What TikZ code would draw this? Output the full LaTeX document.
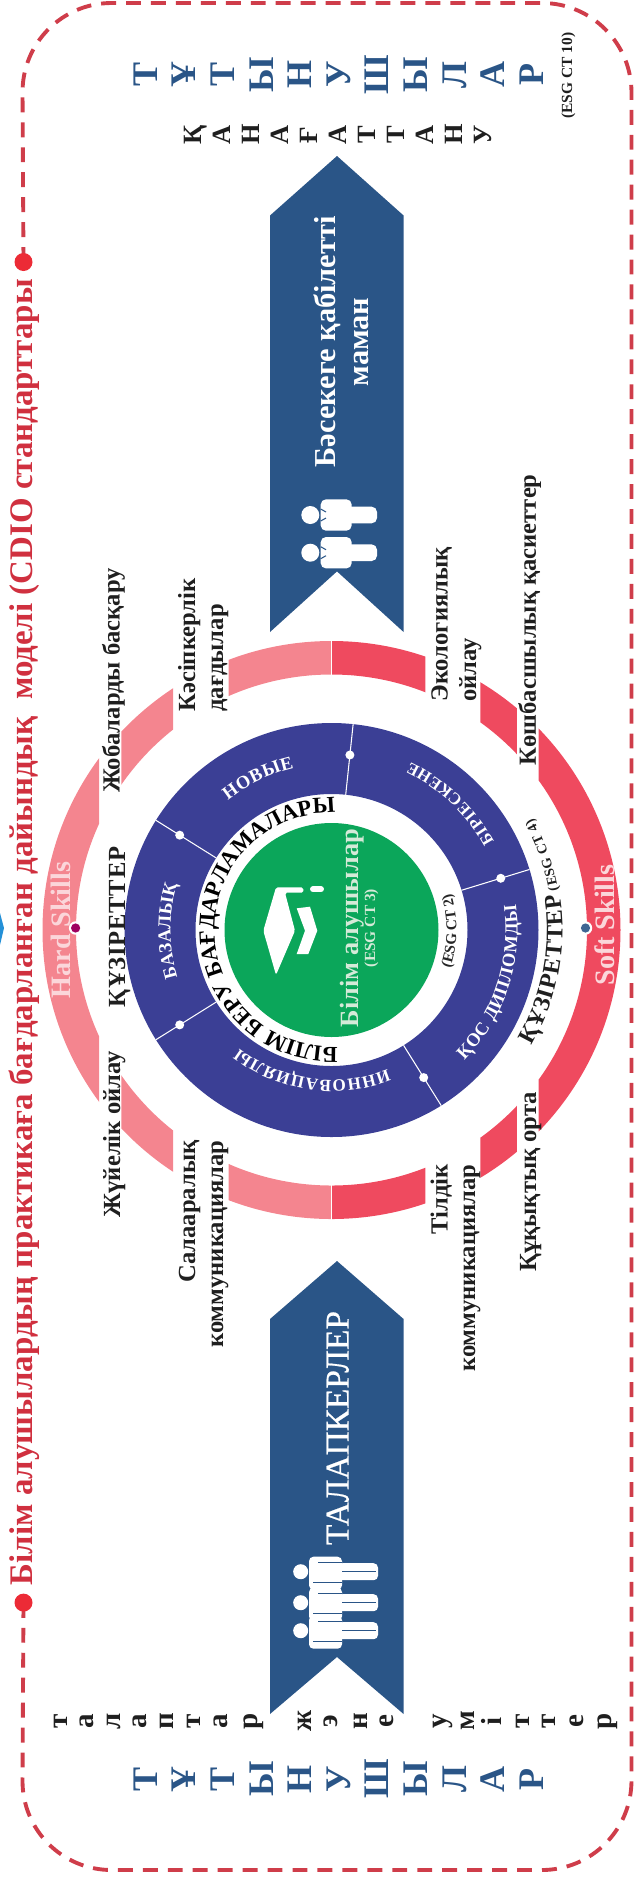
\documentclass[tikz,border=0pt]{standalone}
\usepackage{fontspec}
\setmainfont{Liberation Serif}
\usetikzlibrary{calc,decorations.text}
\definecolor{framered}{HTML}{CF3D4A}
\definecolor{titlered}{HTML}{D0303F}
\definecolor{dotred}{HTML}{EC2B36}
\definecolor{arrowblue}{HTML}{2A5587}
\definecolor{ringblue}{HTML}{3B3F95}
\definecolor{ringgreen}{HTML}{0BA65A}
\definecolor{softpink}{HTML}{F4858F}
\definecolor{softred}{HTML}{EF4A5F}
\definecolor{lightpink}{HTML}{FBD6DA}
\definecolor{lightgreen}{HTML}{D5EAD8}

\tikzset{
  lab/.style={rotate=90,inner sep=0,anchor=base west,text=black!88,font=\bfseries\fontsize{14}{16}\selectfont},
  labend/.style={lab,anchor=base east},
  bigletter/.style={rotate=90,inner sep=0,anchor=base,text=arrowblue,font=\bfseries\fontsize{20.5}{22}\selectfont},
  midletter/.style={rotate=90,inner sep=0,anchor=base,text=black!88,font=\bfseries\fontsize{15}{17}\selectfont},
  smallletter/.style={rotate=90,inner sep=0,anchor=base,text=black!88,font=\bfseries\fontsize{16.5}{18}\selectfont},
  note/.style={rotate=90,inner sep=0,anchor=base,text=black!88,font=\bfseries\fontsize{8.8}{10}\selectfont},
  arrowtext/.style={rotate=90,inner sep=0,anchor=base,text=white,font=\bfseries\fontsize{17.3}{20}\selectfont},
  skills/.style={rotate=90,inner sep=0,anchor=base,text=lightpink,font=\bfseries\fontsize{16}{18}\selectfont}
}
\newcommand{\ringpart}[3]{%
  \begin{scope}
    \clip (#1,-1300) rectangle (#2,-500);
    \fill[#3,even odd rule] (ringc) circle[radius=289] (ringc) circle[radius=255.5];
  \end{scope}}
\newcommand{\arctext}[5]{%
  \path[decorate,decoration={text along path,text={|#4|#5},text align={fit to path}}]
    (ringc) ++(#1:#3) arc[start angle=#1,end angle=#2,radius=#3];}

\begin{document}
\begin{tikzpicture}[x=0.02cm,y=0.02cm]
\useasboundingbox (0,0) rectangle (634,-1881);

\coordinate (ringc) at (331.5,-930);

% frame
\coordinate (dottop) at (23.5,-262);
\coordinate (dotbottom) at (23.5,-1602.6);
\draw[framered,line width=2.2pt,dash pattern=on 8.5pt off 5.7pt,rounded corners=51pt]
  (dottop) -- (22,-3) -- (631.5,-3) -- (631.5,-1870) -- (22,-1870) -- (dotbottom);
\fill[dotred] (dottop) circle[radius=9];
\fill[dotred] (dotbottom) circle[radius=9];
\node[rotate=90,inner sep=0,anchor=base,text=titlered,font=\bfseries\fontsize{18.75}{22}\selectfont] (title) at (32,-932)
  {Білім алушылардың практикаға бағдарланған дайындық\ \ моделі (CDIO стандарттары};
\fill[cyan!70!blue!90] (0,-913) -- (4,-928) -- (0,-945) -- cycle;

% arrows
\fill[arrowblue] (337,-156) -- (403.6,-215.5) -- (403.6,-632) -- (337,-571.4) -- (270,-632) -- (270,-215.5) -- cycle;
\fill[arrowblue] (337,-1261) -- (403.6,-1319) -- (403.6,-1714) -- (337,-1657) -- (270,-1714) -- (270,-1319) -- cycle;

% people
\foreach \y in {515,552.7} {
  \fill[white] (310.3,-\y) circle[radius=9];
  \fill[white,rounded corners=3pt] (320.7,-\y+15.7) rectangle (351.7,-\y-15.7);
  \fill[white,rounded corners=3pt] (345,-\y+8.3) rectangle (377,-\y-8.3);
  \draw[arrowblue,line width=0.6pt] (320.7,-\y+6) -- (326,-\y+3) (320.7,-\y-6) -- (326,-\y-3);
}
\foreach \y in {1571.7,1602.7,1630.7} {
  \fill[white] (300.7,-\y) circle[radius=7.5];
  \fill[white,rounded corners=2.5pt] (309,-\y-18) rectangle (342,-\y+15);
  \fill[white,rounded corners=2.5pt] (338,-\y-8.5) rectangle (378,-\y+8.5);
  \draw[arrowblue,line width=0.5pt] (342,-\y) -- (376,-\y);
  \draw[arrowblue,line width=0.5pt] (318,-\y+9) -- (342,-\y+9);
  \draw[arrowblue,line width=0.5pt] (313,-\y-11) -- (342,-\y-11);
}

% ring
\ringpart{0}{99}{softpink}
\ringpart{121.3}{173}{softpink}
\ringpart{228.5}{331.6}{softpink}
\ringpart{331.6}{425.4}{softred}
\ringpart{480.4}{516.8}{softred}
\ringpart{538.6}{634}{softred}
\draw[white,line width=0.5pt] (331.6,-630) -- (331.6,-685) (331.6,-1175) -- (331.6,-1230);
\node[skills] (hard) at (71,-930) {Hard Skills};
\node[skills] (soft) at (614,-925) {Soft Skills};
\fill[white] (75.6,-928) circle[radius=6.7];
\fill[white] (585.5,-928) circle[radius=6.7];
\fill[violet!75!red] (75.6,-928) circle[radius=4.6];
\fill[arrowblue!90!white] (585.5,-928) circle[radius=4.6];

% programmes
\fill[ringblue,even odd rule] (ringc) circle[radius=207] (ringc) circle[radius=136];
\fill[ringgreen] (ringc) circle[radius=107];
\foreach \a/\d in {84/176,148/179,212/179,-58/174,17/177} {
  \draw[white,line width=0.6pt] (ringc) ++(\a:136) -- ++(\a:71);
  \fill[white] (ringc) ++(\a:\d) circle[radius=4.5];
}
\arctext{128.6}{103}{166}{\color{white}\bfseries\fontsize{10.5}{12}\selectfont}{НОВЫЕ}
\arctext{197}{165}{161}{\color{white}\bfseries\fontsize{10.5}{12}\selectfont}{БАЗАЛЫҚ}
\arctext{-68}{-128}{150}{\color{white}\bfseries\fontsize{9.8}{12}\selectfont}{ИННОВАЦИЯЛЫ}
\arctext{-44.4}{8}{186}{\color{white}\bfseries\fontsize{10.5}{12}\selectfont}{ҚОС ДИПЛОМДЫ}
\arctext{28.5}{64.8}{185}{\color{white}\bfseries\fontsize{9.5}{11}\selectfont}{БІРІЕСКЕНЕ}
\arctext{-87}{-270}{117}{\color{black}\bfseries\fontsize{13}{15}\selectfont}{БІЛІМ БЕРУ БАҒДАРЛАМАЛАРЫ}
\arctext{-18}{17}{125}{\color{black!85}\bfseries\fontsize{8.6}{10}\selectfont}{(ESG CT 2)}
\arctext{-30}{9}{231}{\color{black!88}\bfseries\fontsize{13.6}{15}\selectfont}{ҚҰЗІРЕТТЕР}
\arctext{10}{29}{230}{\color{black!88}\bfseries\fontsize{8}{10}\selectfont}{(ESG CT 4)}
\node[rotate=90,inner sep=0,anchor=base,text=black!88,font=\bfseries\fontsize{14}{16}\selectfont\addfontfeature{LetterSpace=3}] (kuzleft) at (125,-927) {ҚҰЗІРЕТТЕР};

% logo
\fill[white,rounded corners=1pt] (263.3,-930.7) -- (276,-887.3) -- (303.3,-887.3) -- (303.3,-892.7) -- (285,-892.7) -- (295,-930.7) -- (276,-975) -- cycle;
\fill[white] (296.7,-908.3) -- (310,-906.7) -- (317.3,-930.7) -- (308.3,-954) -- (296.7,-954) -- (305,-930.7) -- cycle;
\draw[white,line width=3.4pt,line cap=round] (313,-889.3) -- (321,-889.3);
\node[rotate=90,inner sep=0,anchor=base,text=lightgreen,font=\bfseries\fontsize{15}{17}\selectfont] (students) at (358,-928) {Білім алушылар};
\node[rotate=90,inner sep=0,anchor=base,text=lightgreen,font=\bfseries\fontsize{8.8}{10}\selectfont] (esgthree) at (375,-928) {(ESG CT 3)};

% labels
\node[lab] (projects) at (119.7,-793) {Жобаларды басқару};
\node[lab] (systems) at (120,-1218) {Жүйелік ойлау};
\node[lab] (prof) at (195,-712) {Кәсіпкерлік};
\node[lab] (prof2) at (223,-712) {дағдылар};
\node[lab] (eco) at (447.6,-702) {Экологиялық};
\node[lab] (eco2) at (476,-702) {ойлау};
\node[lab] (lead) at (535.8,-765.6) {Көшбасшылық қасиеттер};
\node[labend] (inter) at (195,-1140) {Салааралық};
\node[labend] (inter2) at (223,-1140) {коммуникациялар};
\node[labend] (lang) at (447.6,-1164) {Тілдік};
\node[labend] (lang2) at (475,-1164) {коммуникациялар};
\node[lab] (legal) at (536,-1272) {Құқықтық орта};

% arrow texts
\node[arrowtext] (rival) at (335,-341.7) {Бәсекеге қабілетті};
\node[arrowtext] (rival2) at (368,-342) {маман};
\node[arrowtext,font=\fontsize{19}{22}\selectfont\addfontfeature{FakeBold=0.6}] (applicants) at (348.6,-1428) {ТАЛАПКЕРЛЕР};

% spelled words
\foreach \ch [count=\n] in {Т,Ұ,Т,Ы,Н,У,Ш,Ы,Л,А,Р} {
  \node[bigletter] (toplet\n) at ({157.3+38.6*(\n-1)},-74.7) {\ch};
  \node[bigletter] (botlet\n) at ({157.3+38.6*(\n-1)},-1779) {\ch};
}
\foreach \ch [count=\n] in {Қ,А,Н,А,Ғ,А,Т,Т,А,Н,У} {
  \node[midletter] (satis\n) at ({201.5+29*(\n-1)},-134.7) {\ch};
}
\foreach \ch/\x [count=\n] in {т/60,а/86.6,л/113,а/139,п/166,т/193,а/220,р/250,ж/304,э/330,н/360,е/386.6,у/439.6,м/467,і/494.5,т/522,т/548,е/576,р/604} {
  \node[smallletter] (low\n) at (\x+7,-1721) {\ch};
}
\node[note] (esgten) at (572,-75.5) {(ESG CT 10)};
\end{tikzpicture}
\end{document}
